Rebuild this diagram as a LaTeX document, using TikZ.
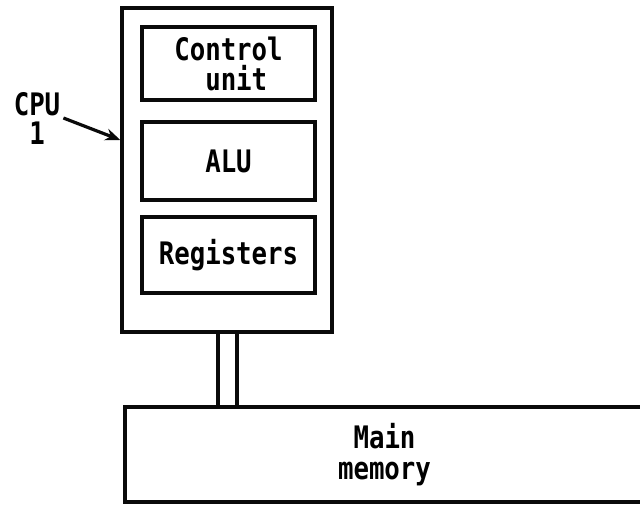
\documentclass[tikz,border=0pt]{standalone}
\usepackage{fontspec}
\usepackage{xcolor}
\usepackage{tikz}
\usetikzlibrary{arrows.meta}
\newfontfamily\typefont[FakeStretch=0.83]{DejaVu Sans Mono Bold}
\definecolor{ink}{RGB}{10, 10, 10}

\begin{document}
\begin{tikzpicture}[x=1pt, y=-1pt,
    outerbox/.style={rectangle, draw=ink, line width=3.4pt, inner sep=0pt},
    unitbox/.style={rectangle, draw=ink, line width=3.4pt, minimum width=173pt, align=center, inner sep=0pt, font=\fontsize{31}{30}\typefont},
    label/.style={align=center, inner sep=3pt, font=\fontsize{31}{29}\typefont},
    arrow/.style={line width=3.2pt, -{Stealth[length=15pt, width=12pt]}, color=ink},
    bus/.style={line width=3.4pt, color=ink}
]
    \clip (0,0) rectangle (640,504);
    \node[outerbox, minimum width=210pt, minimum height=324pt] (cpu) at (227, 170) {};
    \node[unitbox, minimum height=73pt, align=left] (ctrl) at (228.5, 63.5) {Control\\\ \ unit};
    \node[unitbox, minimum height=78pt] (alu) at (228.5, 161) {ALU};
    \node[unitbox, minimum height=76pt] (regs) at (228.5, 255) {Registers};
    \node[unitbox, minimum width=519pt, minimum height=95pt, font=\fontsize{31}{31}\typefont] (mem) at (384.5, 454.5) {Main\\memory};
    \node[label] (cpulbl) at (37, 118) {CPU\\1};
    \coordinate (hit) at ([yshift=30pt]cpu.west);

    \draw[arrow] (cpulbl.east) -- (hit);
    \draw[bus] ([xshift=-9pt]cpu.south) -- ([xshift=-9pt]cpu.south |- mem.north);
    \draw[bus] ([xshift=10pt]cpu.south) -- ([xshift=10pt]cpu.south |- mem.north);
\end{tikzpicture}
\end{document}
